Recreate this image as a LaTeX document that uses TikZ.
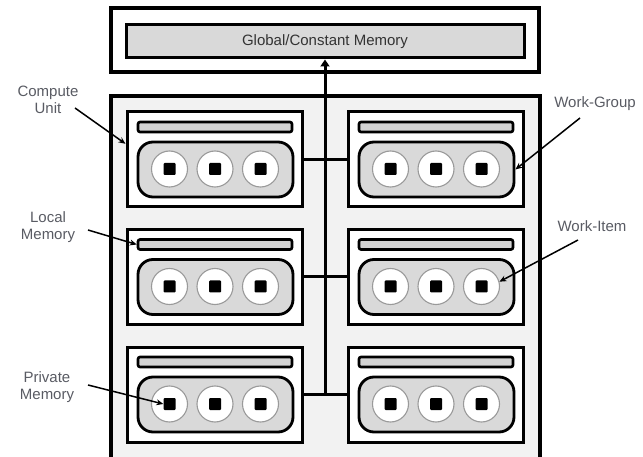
\documentclass[tikz,border=0pt]{standalone}
\usepackage{fontspec}
\setmainfont{Liberation Sans}
\usetikzlibrary{arrows.meta,positioning}
\definecolor{panel}{HTML}{F2F2F2}
\definecolor{memfill}{HTML}{D9D9D9}
\definecolor{barfill}{HTML}{D3D3D3}
\definecolor{labeltext}{HTML}{595B63}
\definecolor{ringgray}{HTML}{9A9A9A}
\tikzset{
  outerbox/.style={draw=black, line width=3.2pt, fill=#1, inner sep=0pt},
  unitbox/.style={draw=black, line width=3pt, fill=white, inner sep=0pt,
    minimum width=175pt, minimum height=95pt},
  membar/.style={draw=black, line width=2.6pt, fill=barfill, inner sep=0pt,
    minimum width=154pt, minimum height=10pt, rounded corners=2pt},
  groupbox/.style={draw=black, line width=2.8pt, fill=memfill, inner sep=0pt,
    minimum width=155pt, minimum height=55pt, rounded corners=15pt},
  itemcircle/.style={circle, draw=ringgray, line width=1.1pt, fill=white,
    inner sep=0pt, minimum size=36pt},
  privsq/.style={fill=black, inner sep=0pt, minimum size=12pt, rounded corners=1pt},
  bus/.style={line width=3pt},
  pointer/.style={line width=1.5pt, -{Stealth[length=7pt,width=6pt]}},
  lbl/.style={text=labeltext, align=center, font=\fontsize{15}{17}\selectfont, inner sep=0pt},
}
\begin{document}
\begin{tikzpicture}[x=1pt, y=-1pt]
\useasboundingbox (0,0) rectangle (643,457);

% global memory block
\node[outerbox=white, minimum width=428pt, minimum height=64pt] (gbox) at (325,40) {};
\node[draw=black, line width=3pt, fill=memfill, inner sep=0pt,
      minimum width=398pt, minimum height=33pt,
      font=\fontsize{15}{17}\selectfont, text=black!80] (gmem) at (325,41.5)
      {Global/Constant Memory};

% device panel holding the compute units
\node[outerbox=panel, minimum width=429pt, minimum height=366pt] (dev) at (325.5,279) {};

% compute units: three rows, two columns
\foreach \r/\yy in {1/159.5, 2/277, 3/394.5} {
  \foreach \c/\xx in {1/214.5, 2/435.5} {
    \node[unitbox] (cu-\r-\c) at (\xx,\yy) {};
    \node[membar] (bar-\r-\c) at (\xx+0.5,\yy-32.5) {};
    \node[groupbox] (wg-\r-\c) at (\xx+1,\yy+10) {};
    \foreach \k/\dx in {1/-45, 2/0.5, 3/46} {
      \node[itemcircle] (wi-\r-\c-\k) at (\xx+\dx,\yy+9.5) {};
      \node[privsq] (pm-\r-\c-\k) at (wi-\r-\c-\k.center) {};
    }
  }
}

% interconnect between the units and up to global memory
\foreach \r in {1,2,3} {
  \draw[bus] (cu-\r-1.east) -- (cu-\r-2.west);
}
\coordinate (busfoot) at (gmem.south |- cu-3-1.east);
\draw[bus, -{Triangle[length=7pt,width=9pt]}] (busfoot) -- (gmem.south);

% labels with pointers
\node[lbl] (l-cu) at (48,100) {Compute\\Unit};
\node[lbl] (l-lm) at (48,227) {Local\\Memory};
\node[lbl] (l-pm) at (47,387) {Private\\Memory};
\node[lbl] (l-wg) at (595,104) {Work-Group};
\node[lbl] (l-wi) at (592,226) {Work-Item};

\coordinate (s-cu) at (75,108);
\coordinate (s-lm) at (88,230);
\coordinate (s-pm) at (88,385);
\coordinate (s-wg) at (580,118);
\coordinate (s-wi) at (578,240);

\draw[pointer] (s-cu) -- (cu-1-1.170);
\draw[pointer] (s-lm) -- (bar-2-1.west);
\draw[pointer] (s-pm) -- (pm-3-1-1.west);
\draw[pointer] (s-wg) -- (wg-1-2.east);
\draw[pointer] (s-wi) -- (wi-2-2-3.15);
\end{tikzpicture}
\end{document}
